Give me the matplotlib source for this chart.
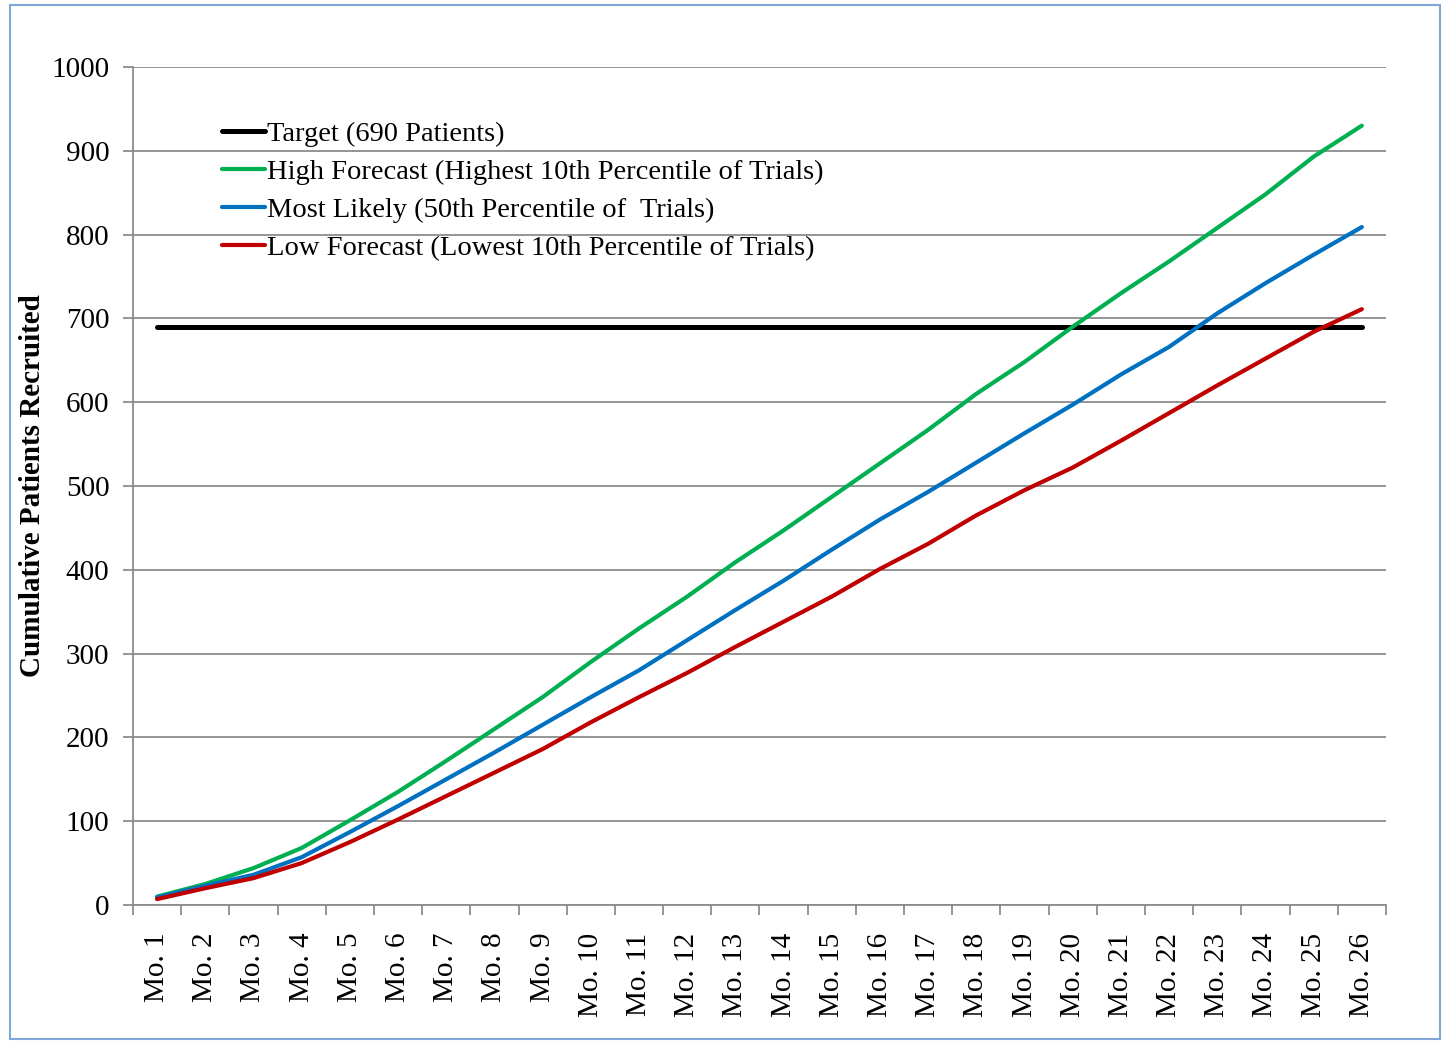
import numpy as np
import matplotlib
matplotlib.use("Agg")
import matplotlib.pyplot as plt
from matplotlib.patches import Rectangle

plt.rcParams['font.family'] = ['Liberation Serif', 'DejaVu Serif']

# monthly cumulative recruitment forecasts
months = ["Mo. %d" % i for i in range(1, 27)]
target = [690] * 26
high = [10, 25, 44, 68, 101, 135, 172, 210, 248, 290, 330, 368, 409, 447, 487,
        527, 567, 610, 648, 690, 730, 768, 808, 848, 893, 930]
likely = [9, 23, 36, 57, 87, 118, 150, 182, 215, 248, 280, 316, 352, 387, 424,
          460, 493, 528, 563, 597, 633, 666, 706, 742, 776, 809]
low = [7, 20, 32, 50, 75, 102, 130, 158, 186, 218, 248, 277, 308, 338, 368,
       401, 431, 465, 495, 522, 554, 587, 620, 652, 684, 711]

labels = ["Target (690 Patients)",
          "High Forecast (Highest 10th Percentile of Trials)",
          "Most Likely (50th Percentile of  Trials)",
          "Low Forecast (Lowest 10th Percentile of Trials)"]
colors = ["#000000", "#00b050", "#0070c0", "#c00000"]

fig = plt.figure(figsize=(14.47, 10.42), dpi=100)
ax = fig.add_axes([0.0919, 0.1315, 0.8659, 0.8042])

x = np.arange(1, 27)
for series, lab, col, lw in zip([target, high, likely, low], labels, colors,
                                [3.6, 3.0, 3.0, 3.0]):
    ax.plot(x, series, color=col, lw=lw, label=lab, solid_capstyle='round')

ax.set_xlim(0.5, 26.5)
ax.set_ylim(0, 1000)
ax.set_yticks(np.arange(0, 1001, 100))
ax.yaxis.grid(True, color='#8c8c8c', lw=1.3)
ax.set_axisbelow(True)

ax.set_xticks(x)
ax.set_xticklabels(months, rotation=90, fontsize=21)
ax.set_xticks(np.arange(0.5, 27, 1), minor=True)
ax.tick_params(axis='x', which='major', length=0, pad=20)
ax.tick_params(axis='x', which='minor', length=7, color='#8c8c8c', width=1.3)
ax.tick_params(axis='y', length=7, color='#8c8c8c', width=1.3, labelsize=21, pad=10)

for side in ['top', 'right']:
    ax.spines[side].set_visible(False)
for side in ['left', 'bottom']:
    ax.spines[side].set_color('#8c8c8c')
    ax.spines[side].set_linewidth(1.3)

ax.set_ylabel("Cumulative Patients Recruited", fontsize=21, fontweight='bold',
              labelpad=4)

leg = ax.legend(loc='upper left', bbox_to_anchor=(0.071, 0.936), frameon=False,
                fontsize=20.5, handlelength=1.5, handletextpad=0.08,
                labelspacing=0.43, borderaxespad=0, borderpad=0)

# outer chart border
fig.patches.append(Rectangle((0.007, 0.003), 0.988, 0.992, transform=fig.transFigure,
                             fill=False, edgecolor='#7fa6d6', lw=1.5))

fig.savefig("out.png", dpi=100)
